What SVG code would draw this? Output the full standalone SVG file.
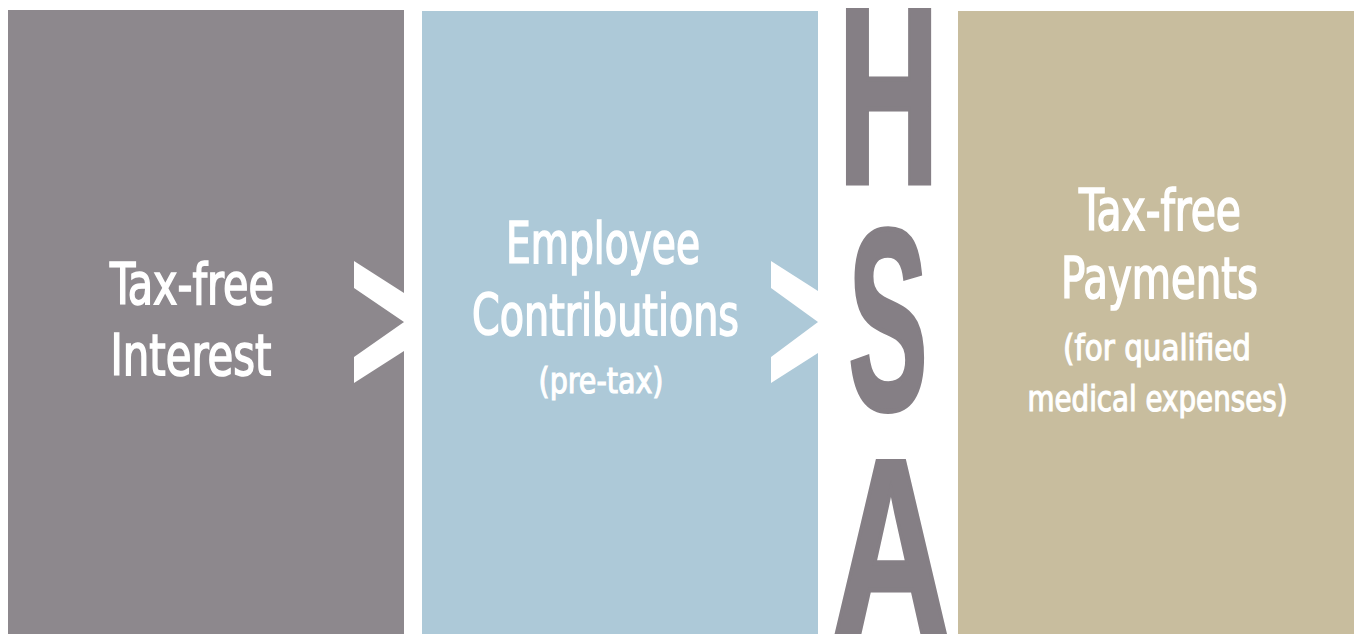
<svg xmlns="http://www.w3.org/2000/svg" width="1354" height="634" viewBox="0 0 1354 634">
<style>
.lbl{font-family:"Liberation Sans Narrow","DejaVu Sans Condensed","Liberation Sans",sans-serif;fill:#fff;stroke:#fff;stroke-width:1.6;text-anchor:middle}
.big{font-size:57px}
.sub{font-size:35px;stroke-width:1.1}
.hsa{font-family:"Liberation Sans","DejaVu Sans",sans-serif;font-weight:bold;font-size:250px;fill:#857f85;stroke:#857f85;stroke-width:5;text-anchor:middle}
.chev{fill:#fff}
</style>
<rect x="0" y="0" width="1354" height="634" fill="#fff"/>
<g id="node-interest">
<rect x="8" y="10" width="396" height="624" fill="#8d888d"/>
<text class="lbl big" x="192" y="304" textLength="164" lengthAdjust="spacingAndGlyphs">Tax-free</text>
<text class="lbl big" x="191" y="375" textLength="161" lengthAdjust="spacingAndGlyphs">Interest</text>
</g>
<g id="node-contributions">
<rect x="422" y="11" width="396" height="623" fill="#adc9d8"/>
<text class="lbl big" x="603" y="263" textLength="194" lengthAdjust="spacingAndGlyphs">Employee</text>
<text class="lbl big" x="605.5" y="335" textLength="267" lengthAdjust="spacingAndGlyphs">Contributions</text>
<text class="lbl sub" x="601" y="393" textLength="125" lengthAdjust="spacingAndGlyphs">(pre-tax)</text>
</g>
<g id="node-hsa">
<text class="hsa" transform="translate(888.5,183) scale(0.56,1)">H</text>
<text class="hsa" style="font-size:258px" transform="translate(888,409) scale(0.46,1)">S</text>
<text class="hsa" transform="translate(891,634) scale(0.65,1)">A</text>
</g>
<g id="node-payments">
<rect x="958" y="11" width="396" height="623" fill="#c8bd9e"/>
<text class="lbl big" x="1160" y="230" textLength="162" lengthAdjust="spacingAndGlyphs">Tax-free</text>
<text class="lbl big" x="1159.5" y="298" textLength="197" lengthAdjust="spacingAndGlyphs">Payments</text>
<text class="lbl sub" x="1157" y="360" textLength="188" lengthAdjust="spacingAndGlyphs">(for qualified</text>
<text class="lbl sub" x="1157.5" y="411" textLength="260" lengthAdjust="spacingAndGlyphs">medical expenses)</text>
</g>
<g id="connectors">
<polygon class="chev" points="354,261 404,293 404,351 354,383 354,357 404,322 354,288"/>
<polygon class="chev" points="771,261 818,291 818,353 771,383 771,357 818,322 771,288"/>
</g>
</svg>
